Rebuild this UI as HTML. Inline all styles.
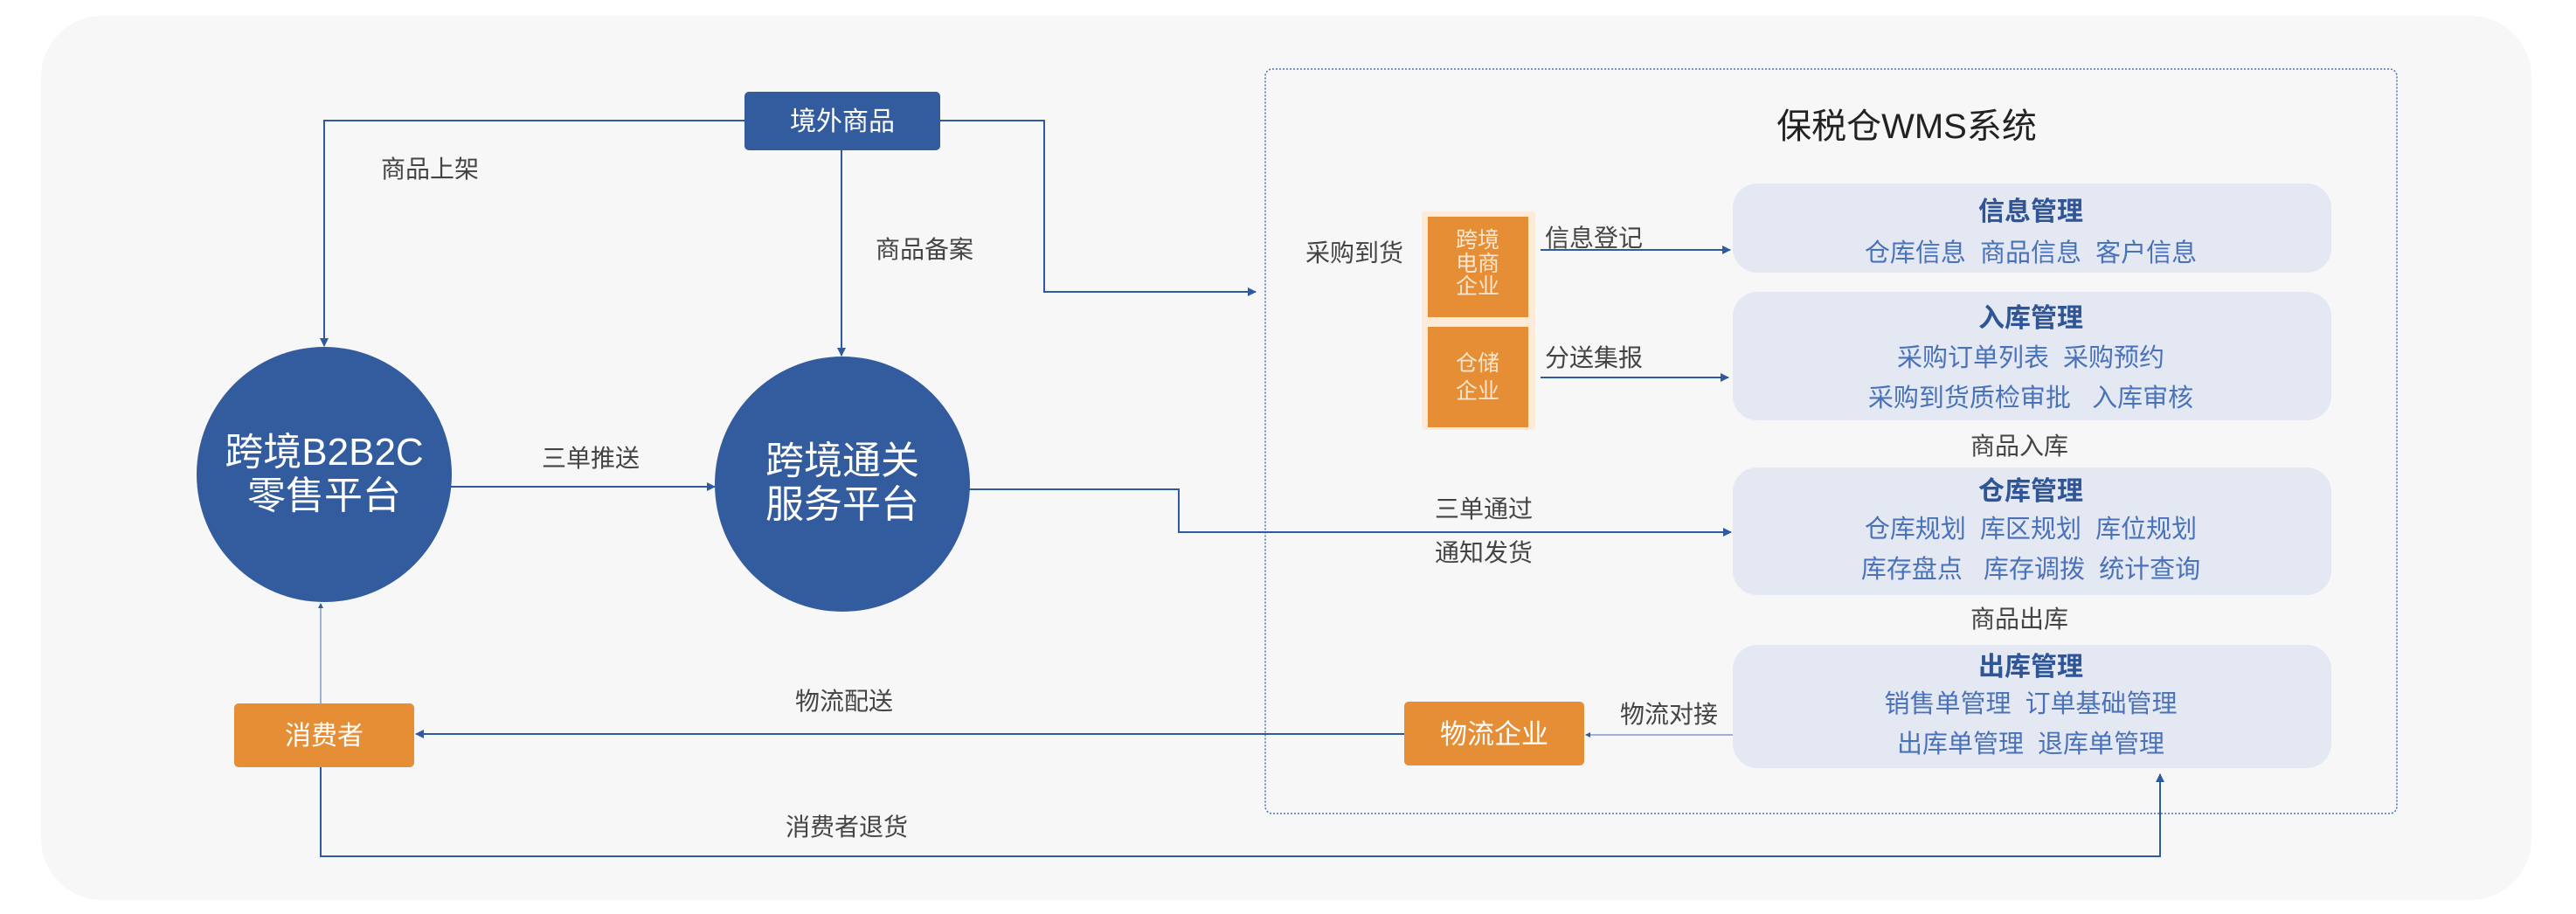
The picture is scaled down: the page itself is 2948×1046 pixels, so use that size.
<!DOCTYPE html>
<html><head><meta charset="utf-8"><style>
html,body{margin:0;padding:0;background:#fff;}
svg{display:block;}
text{font-family:"Liberation Sans","Noto Sans CJK SC",sans-serif;white-space:pre;}
</style></head><body>
<svg width="2948" height="1046" viewBox="0 0 2948 1046" xmlns="http://www.w3.org/2000/svg" xml:space="preserve">
<defs>
<marker id="a" markerWidth="10" markerHeight="10" refX="9" refY="5" orient="auto" markerUnits="userSpaceOnUse"><path d="M0,0 L10,5 L0,10 z" fill="#2f5aa0"/></marker>
<marker id="s" markerWidth="6" markerHeight="6" refX="5" refY="3" orient="auto" markerUnits="userSpaceOnUse"><path d="M0,0 L6,3 L0,6 z" fill="#2f5aa0"/></marker>
</defs>
<rect x="47" y="18" width="2850" height="1012" rx="70" fill="#f7f7f8"/>
<rect x="1448" y="79" width="1295" height="852" rx="8" fill="none" stroke="#4a72b8" stroke-width="1.5" stroke-dasharray="2,2"/>
<text x="2182" y="158" font-size="40" text-anchor="middle" fill="#222">保税仓WMS系统</text>

<g fill="none" stroke="#2f5aa0" stroke-width="2">
<polyline points="852,138 371,138 371,396" marker-end="url(#a)"/>
<polyline points="963,172 963,407" marker-end="url(#a)"/>
<polyline points="1076,138 1195,138 1195,334 1437,334" marker-end="url(#a)"/>
<polyline points="516,557 818,557" marker-end="url(#a)"/>
<polyline points="1109,560 1349,560 1349,609 1981,609" marker-end="url(#a)"/>
<polyline points="1763,286 1980,286" marker-end="url(#a)"/>
<polyline points="1763,432 1978,432" marker-end="url(#a)"/>
<polyline points="1607,840 476,840" marker-end="url(#a)"/>
<polyline points="367,878 367,980 2472,980 2472,886" marker-end="url(#a)"/>
</g>
<g fill="none" stroke="#7f9bc8" stroke-width="1.5">
<polyline points="367,805 367,691" marker-end="url(#s)"/>
<polyline points="1983,841 1815,841" marker-end="url(#s)"/>
</g>

<rect x="852" y="105" width="224" height="67" rx="5" fill="#335c9f"/>
<text x="964" y="149" font-size="30" text-anchor="middle" fill="#fff">境外商品</text>
<text x="492" y="203" font-size="28" text-anchor="middle" fill="#444">商品上架</text>
<text x="1058" y="295" font-size="28" text-anchor="middle" fill="#444">商品备案</text>

<circle cx="371" cy="543" r="146" fill="#335c9f"/>
<text x="371" y="532" font-size="44" text-anchor="middle" fill="#fff">跨境B2B2C</text>
<text x="371" y="582" font-size="44" text-anchor="middle" fill="#fff">零售平台</text>
<circle cx="964" cy="554" r="146" fill="#335c9f"/>
<text x="964" y="542" font-size="44" text-anchor="middle" fill="#fff">跨境通关</text>
<text x="964" y="592" font-size="44" text-anchor="middle" fill="#fff">服务平台</text>
<text x="676" y="534" font-size="28" text-anchor="middle" fill="#444">三单推送</text>

<rect x="268" y="805" width="206" height="73" rx="5" fill="#e58e36"/>
<text x="371" y="852" font-size="30" text-anchor="middle" fill="#fff">消费者</text>
<text x="966" y="812" font-size="28" text-anchor="middle" fill="#444">物流配送</text>
<text x="969" y="956" font-size="28" text-anchor="middle" fill="#444">消费者退货</text>

<text x="1550" y="299" font-size="28" text-anchor="middle" fill="#444">采购到货</text>
<rect x="1627" y="242" width="130" height="250" rx="4" fill="#fcebd8"/>
<rect x="1634" y="248" width="115" height="115" fill="#e58e36"/>
<rect x="1634" y="374" width="115" height="115" fill="#e58e36"/>
<g font-size="25" text-anchor="middle" fill="#fbe6cf">
<text x="1691" y="283">跨境</text><text x="1691" y="310">电商</text><text x="1691" y="336">企业</text>
<text x="1691" y="424">仓储</text><text x="1691" y="456">企业</text>
</g>
<text x="1824" y="282" font-size="28" text-anchor="middle" fill="#444">信息登记</text>
<text x="1824" y="419" font-size="28" text-anchor="middle" fill="#444">分送集报</text>
<text x="1698" y="592" font-size="28" text-anchor="middle" fill="#444">三单通过</text>
<text x="1698" y="642" font-size="28" text-anchor="middle" fill="#444">通知发货</text>

<rect x="1607" y="803" width="206" height="73" rx="5" fill="#e58e36"/>
<text x="1710" y="851" font-size="31" text-anchor="middle" fill="#fff">物流企业</text>
<text x="1910" y="827" font-size="28" text-anchor="middle" fill="#444">物流对接</text>

<g fill="#e3e8f3">
<rect x="1983" y="210" width="685" height="102" rx="28"/>
<rect x="1983" y="334" width="685" height="147" rx="28"/>
<rect x="1983" y="535" width="685" height="146" rx="28"/>
<rect x="1983" y="738" width="685" height="141" rx="28"/>
</g>
<g font-size="30" text-anchor="middle" font-weight="bold" fill="#2f5597">
<text x="2324" y="252">信息管理</text>
<text x="2324" y="374">入库管理</text>
<text x="2324" y="572">仓库管理</text>
<text x="2324" y="773">出库管理</text>
</g>
<g font-size="29" text-anchor="middle" fill="#4a72b8">
<text x="2324" y="299">仓库信息  商品信息  客户信息</text>
<text x="2324" y="419">采购订单列表  采购预约</text>
<text x="2324" y="465">采购到货质检审批   入库审核</text>
<text x="2324" y="615">仓库规划  库区规划  库位规划</text>
<text x="2324" y="661">库存盘点   库存调拨  统计查询</text>
<text x="2324" y="815">销售单管理  订单基础管理</text>
<text x="2324" y="861">出库单管理  退库单管理</text>
</g>
<g font-size="28" text-anchor="middle" fill="#444">
<text x="2311" y="520">商品入库</text>
<text x="2311" y="718">商品出库</text>
</g>
</svg>
</body></html>
